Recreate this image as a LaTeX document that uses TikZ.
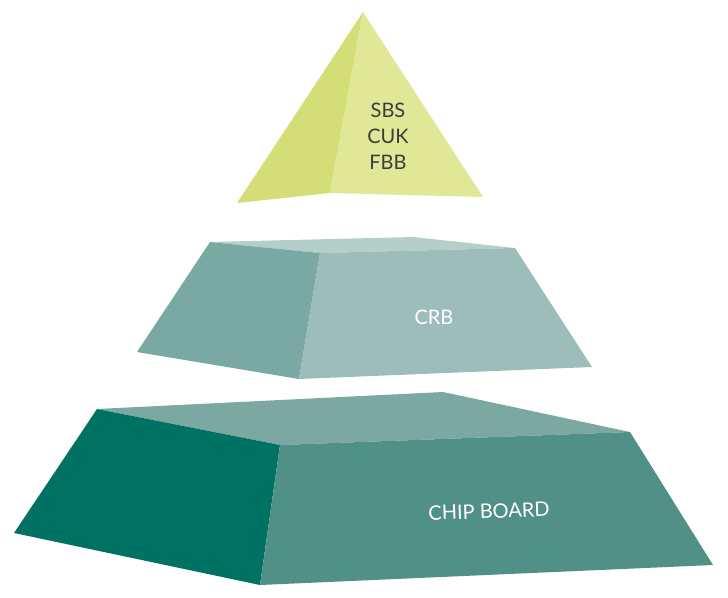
\documentclass[tikz,border=0pt]{standalone}
\usepackage{fontspec}
\setmainfont{Lato}
\usepackage{tikz}
\definecolor{tipleft}{RGB}{212,222,118}
\definecolor{tipfront}{RGB}{224,232,152}
\definecolor{midleft}{RGB}{122,168,163}
\definecolor{midfront}{RGB}{157,189,186}
\definecolor{midtop}{RGB}{180,206,202}
\definecolor{baseleft}{RGB}{0,114,100}
\definecolor{basefront}{RGB}{80,144,134}
\definecolor{basetop}{RGB}{124,168,162}
\definecolor{labelgray}{RGB}{60,60,60}

\begin{document}
\begin{tikzpicture}[
  x=1pt, y=-1pt,
  face/.style={draw=none},
  tierlabel/.style={text=white, font=\fontsize{20}{24}\selectfont, align=center},
  tiplabel/.style={text=labelgray, font=\fontsize{20}{26}\selectfont, align=center}
]
\useasboundingbox (0,0) rectangle (728,597);

% bottom tier
\fill[face, basetop]   (97,409) -- (443,392) -- (630,432) -- (280,445) -- cycle;
\fill[face, baseleft]  (97,409) -- (280,445) -- (260,585) -- (14,533) -- cycle;
\fill[face, basefront] (280,445) -- (630,432) -- (713,565) -- (260,585) -- cycle;
\node[tierlabel, rotate=2] (chip) at (489,511) {CHIP BOARD};

% middle tier
\fill[face, midtop]   (210,242) -- (413,237) -- (515,248) -- (320,253) -- cycle;
\fill[face, midleft]  (210,242) -- (320,253) -- (299,379) -- (137,352) -- cycle;
\fill[face, midfront] (320,253) -- (515,248) -- (592,367) -- (299,379) -- cycle;
\node[tierlabel] (crb) at (434,317) {CRB};

% top tier
\fill[face, tipleft]  (363,12) -- (330,193) -- (237,203) -- cycle;
\fill[face, tipfront] (363,12) -- (483,197) -- (330,193) -- cycle;
\node[tiplabel] (tip) at (388,136) {SBS\\CUK\\FBB};
\end{tikzpicture}
\end{document}
